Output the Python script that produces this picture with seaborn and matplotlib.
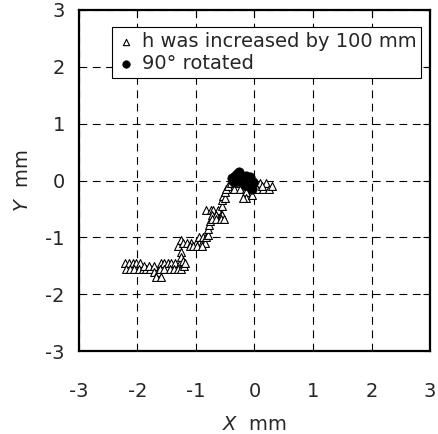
import numpy as np
import pandas as pd
import matplotlib
matplotlib.use("Agg")
import matplotlib.pyplot as plt
import seaborn as sns

# h was increased by 100 mm (open triangles)
tri_x = [-2.22, -2.15, -2.08, -2.02, -1.95,
         -2.20, -2.12, -2.05, -1.98, -1.90, -1.85, -1.78,
         -1.88, -1.80, -1.72,
         -1.72, -1.65, -1.68, -1.60,
         -1.60, -1.55, -1.48, -1.42, -1.35, -1.28, -1.22,
         -1.62, -1.55, -1.45, -1.38, -1.30, -1.25, -1.20,
         -1.30, -1.26, -1.22, -1.25, -1.25, -1.22, -1.18,
         -1.15, -1.08, -1.00, -0.95, -0.90, -0.85,
         -1.10, -1.05, -0.98, -0.90,
         -0.95, -0.88, -0.82,
         -0.80, -0.80, -0.78, -0.76,
         -0.82, -0.75, -0.70, -0.62,
         -0.72, -0.65, -0.58, -0.55,
         -0.72, -0.65, -0.58, -0.52,
         -0.55, -0.55, -0.53, -0.50,
         -0.50, -0.48, -0.45,
         -0.40, -0.30, -0.20, -0.10, 0.00, 0.10, 0.20,
         -0.35, -0.25, -0.15, -0.05, 0.05, 0.15, 0.25,
         0.30, 0.12,
         -0.15, -0.15, -0.20, -0.05]
tri_y = [-1.45, -1.45, -1.45, -1.45, -1.45,
         -1.55, -1.55, -1.55, -1.55, -1.55, -1.55, -1.55,
         -1.50, -1.50, -1.50,
         -1.60, -1.60, -1.70, -1.70,
         -1.45, -1.45, -1.45, -1.45, -1.45, -1.45, -1.45,
         -1.55, -1.55, -1.55, -1.55, -1.55, -1.55, -1.50,
         -1.15, -1.05, -1.10, -1.25, -1.35, -1.42, -1.45,
         -1.10, -1.10, -1.10, -1.10, -1.10, -1.10,
         -1.15, -1.15, -1.15, -1.15,
         -1.00, -1.00, -1.00,
         -0.95, -0.85, -0.78, -0.72,
         -0.52, -0.52, -0.52, -0.52,
         -0.60, -0.60, -0.60, -0.60,
         -0.68, -0.68, -0.68, -0.68,
         -0.45, -0.35, -0.28, -0.30,
         -0.20, -0.15, -0.10,
         -0.05, -0.05, -0.05, -0.05, -0.05, -0.05, -0.05,
         -0.15, -0.15, -0.15, -0.15, -0.15, -0.15, -0.15,
         -0.10, -0.10,
         -0.20, -0.30, -0.30, -0.25]

# 90 deg rotated (filled circles)
dot_x = [-0.38, -0.33, -0.30, -0.27, -0.25, -0.22, -0.18, -0.15, -0.12, -0.08,
         -0.05, -0.02, -0.35, -0.28, -0.20, -0.10, -0.04, -0.30, -0.24, -0.16, -0.08]
dot_y = [0.05, 0.08, 0.12, 0.15, 0.10, 0.05, 0.02, 0.08, 0.05, 0.00,
         -0.05, -0.02, -0.02, 0.00, -0.05, -0.10, -0.15, 0.04, 0.00, -0.08, 0.06]

tri_df = pd.DataFrame({"x": tri_x, "y": tri_y})
dot_df = pd.DataFrame({"x": dot_x, "y": dot_y})

sns.set_style("white")
plt.rcParams["font.family"] = ["DejaVu Sans"]

fig = plt.figure(figsize=(4.38, 4.34), dpi=100)
ax = fig.add_axes([0.180, 0.191, 0.802, 0.786])

sns.scatterplot(data=tri_df, x="x", y="y", marker="^", s=32, facecolor="white",
                edgecolor="black", linewidth=0.8, label="h was increased by 100 mm", ax=ax)
sns.scatterplot(data=dot_df, x="x", y="y", marker="o", s=45, color="black",
                edgecolor="black", label="90° rotated", ax=ax)

ax.set_xlim(-3, 3)
ax.set_ylim(-3, 3)
ax.set_xticks([-3, -2, -1, 0, 1, 2, 3])
ax.set_yticks([-3, -2, -1, 0, 1, 2, 3])
ax.set_xticklabels(["-3", "-2", "-1", "0", "1", "2", "3"])
ax.set_yticklabels(["-3", "-2", "-1", "0", "1", "2", "3"])
ax.grid(True, color="black", linestyle=(0, (7, 5)), linewidth=0.8)
ax.tick_params(direction="in", length=5, labelsize=14, top=True, right=True,
               bottom=False, left=False, pad=10, color="black")
ax.tick_params(axis="x", pad=22)
for s in ax.spines.values():
    s.set_color("black")
    s.set_linewidth(1.6)

ax.set_xlabel("$X$  mm", fontsize=14, labelpad=10)
ax.set_ylabel("$Y$  mm", fontsize=14, labelpad=10)

leg = ax.legend(loc="upper right", bbox_to_anchor=(0.975, 0.95), fontsize=14,
                frameon=True, fancybox=False, edgecolor="black", framealpha=1,
                borderpad=0.25, handletextpad=0.3, labelspacing=0.15,
                handlelength=1.0, borderaxespad=0, markerscale=0.8)
leg.get_frame().set_linewidth(0.8)

fig.savefig("out.png", dpi=100)
